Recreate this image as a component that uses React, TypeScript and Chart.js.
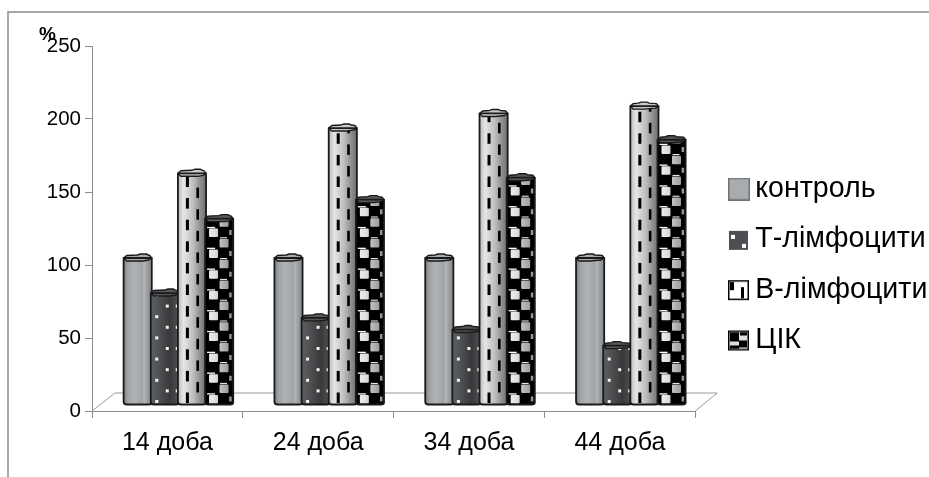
import React, { useEffect, useRef } from "react";
import { Chart, registerables } from "chart.js";

Chart.register(...registerables);

const categories = ["14 доба", "24 доба", "34 доба", "44 доба"];
const seriesNames = ["контроль", "Т-лімфоцити", "В-лімфоцити", "ЦІК"];
const control = [100, 100, 100, 100];
const tCells = [76, 59, 51, 40];
const bCells = [158, 189, 199, 204];
const cik = [127, 140, 155, 181];
const seriesValues = [control, tCells, bCells, cik];
const baseColors = ["#a4a7aa", "#444648", "#c4c4c4", "#111111"];

type Stops = [number, string][];
const bodyStops: Stops[] = [
  [[0, "#7e8184"], [0.15, "#a0a3a6"], [0.38, "#b0b3b6"], [0.68, "#a0a3a6"], [0.72, "#b4b7ba"], [0.85, "#9a9da0"], [1, "#85888b"]],
  [[0, "#5c5e61"], [0.3, "#4e5052"], [0.68, "#38393b"], [1, "#4f5154"]],
  [[0, "#b8b8b8"], [0.2, "#e6e6e6"], [0.55, "#bdbdbd"], [0.8, "#8e8e8e"], [1, "#6e6e6e"]],
  [[0, "#f4f4f4"], [0.35, "#e0e0e0"], [0.6, "#b8b8b8"], [1, "#8a8a8a"]],
];
const capColors = ["#a8abae", "#55575a", "#c8c8c8", "#5a5a5a"];

const SWATCH_W = 44;

function makeSwatch(i: number): HTMLCanvasElement {
  const c = document.createElement("canvas");
  c.width = SWATCH_W;
  c.height = 23;
  const g = c.getContext("2d")!;
  g.translate(SWATCH_W - 23, 0);
  if (i === 0) {
    g.fillStyle = "#a9acaf";
    g.fillRect(0, 0, 22, 23);
    g.strokeStyle = "#6f7275";
    g.lineWidth = 1.5;
    g.strokeRect(0.75, 0.75, 20.5, 21.5);
  } else if (i === 1) {
    g.fillStyle = "#4d4f52";
    g.fillRect(1, 3, 19, 19);
    g.fillStyle = "#fff";
    g.fillRect(3, 7, 4, 4);
    g.fillRect(14, 16, 4, 4);
  } else if (i === 2) {
    g.fillStyle = "#fff";
    g.fillRect(0, 2, 21, 20);
    g.strokeStyle = "#000";
    g.lineWidth = 1.5;
    g.strokeRect(0.75, 2.75, 19.5, 18.5);
    g.fillStyle = "#000";
    g.fillRect(2, 4, 4, 8);
    g.fillRect(13, 9, 3, 11);
  } else {
    g.fillStyle = "#ddd";
    g.fillRect(1, 3, 19, 19);
    g.strokeStyle = "#000";
    g.lineWidth = 1.5;
    g.strokeRect(0.75, 2.75, 19.5, 18.5);
    g.fillStyle = "#000";
    g.fillRect(2, 4, 9, 9);
    g.fillRect(12, 4, 7, 3);
    g.fillRect(11, 12, 8, 7);
    g.fillRect(2, 17, 9, 3);
  }
  return c;
}

const SHIFT_X = 11;
const SHIFT_Y = -6;
const CAP_ABOVE = 5;

function paintBar(ctx: CanvasRenderingContext2D, s: number, g: number, x0: number, w: number, y: number, base: number) {
  const t = y - CAP_ABOVE;
  const bump = x0 + w * (0.7 - g * 0.07);

  const capShape = new Path2D();
  capShape.moveTo(x0, t + 4);
  capShape.lineTo(x0 + 3, t + 1.5);
  capShape.lineTo(bump - 6, t + 1);
  capShape.lineTo(bump - 3, t);
  capShape.lineTo(bump + 3, t);
  capShape.lineTo(bump + 5, t + 1);
  capShape.lineTo(x0 + w - 2, t + 1.5);
  capShape.lineTo(x0 + w, t + 4);
  capShape.lineTo(x0 + w - 3, t + 6);
  capShape.lineTo(bump, t + 7);
  capShape.lineTo(x0 + 3, t + 7);
  capShape.closePath();

  const body = new Path2D();
  body.moveTo(x0, t + 4);
  body.lineTo(x0 + w, t + 4);
  body.lineTo(x0 + w, base - 2);
  body.quadraticCurveTo(x0 + w, base, x0 + w - 3, base);
  body.lineTo(x0 + 3, base);
  body.quadraticCurveTo(x0, base, x0, base - 3);
  body.closePath();

  const grad = ctx.createLinearGradient(x0, 0, x0 + w, 0);
  bodyStops[s].forEach(([o, col]) => grad.addColorStop(o, col));

  ctx.save();
  ctx.clip(body);
  ctx.fillStyle = grad;
  ctx.fillRect(x0, t, w, base - t);

  if (s === 1) {
    ctx.fillStyle = "#f2f2f2";
    let row = 0;
    for (let yy = base - 3; yy > t + 5; yy -= 10.6, row++) {
      if (row % 2 === 0) {
        ctx.fillRect(x0 + 4.5, yy - 1.5, 3, 3);
      } else {
        ctx.fillRect(x0 + 15, yy - 1.5, 3, 3);
        ctx.fillRect(x0 + 25, yy - 1.5, 2, 3);
      }
    }
  } else if (s === 2) {
    ctx.fillStyle = "#000";
    for (let yy = base; yy > t - 22; yy -= 21.6) {
      ctx.fillRect(x0 + 8, yy - 12, 3, 10.5);
      ctx.fillRect(x0 + 18.5, yy - 22.5, 2.6, 10.5);
    }
  } else if (s === 3) {
    // black field, light cells staggered over the shading
    ctx.fillStyle = "#000";
    ctx.fillRect(x0, t, w, base - t);
    const cells = new Path2D();
    let row = 0;
    for (let yy = base - 1; yy > t - 10; yy -= 10.4, row++) {
      if (row % 2 === 0) {
        cells.roundRect(x0 + 4, yy - 8.5, 9, 8.5, 1);
        cells.rect(x0 + w - 4, yy - 7, 2.5, 5);
      } else {
        cells.roundRect(x0 + 14.5, yy - 8.5, 9, 8.5, 1);
      }
    }
    ctx.save();
    ctx.clip(cells);
    ctx.fillStyle = grad;
    ctx.fillRect(x0, t, w, base - t);
    ctx.restore();
    ctx.fillStyle = "#fff";
    row = 0;
    for (let yy = base - 1; yy > t + 8; yy -= 10.4, row++) {
      if (row % 2 === 0) ctx.fillRect(x0 + 2, yy - 10.2, 8, 1.3);
      else ctx.fillRect(x0 + 15, yy - 10.2, 7, 1);
    }
  }
  ctx.restore();

  ctx.fillStyle = capColors[s];
  ctx.fill(capShape);

  ctx.strokeStyle = "#1a1a1a";
  ctx.lineWidth = 1.8;
  ctx.lineJoin = "round";
  ctx.stroke(body);
  ctx.lineWidth = 1.4;
  ctx.stroke(capShape);
}

const decorPlugin = {
  id: "decor",
  beforeDatasetsDraw(chart: any) {
    const { ctx, chartArea } = chart;
    const { left, right, bottom } = chartArea;
    ctx.save();
    ctx.strokeStyle = "#9a9a9a";
    ctx.lineWidth = 1;
    ctx.beginPath();
    ctx.moveTo(left, bottom);
    ctx.lineTo(left + 23, bottom - 18);
    ctx.lineTo(right + 22, bottom - 18);
    ctx.lineTo(right, bottom);
    ctx.stroke();
    ctx.restore();
    ctx.save();
    ctx.translate(SHIFT_X, SHIFT_Y);
  },
  afterDatasetsDraw(chart: any) {
    seriesNames.forEach((_, s) => {
      chart.getDatasetMeta(s).data.forEach((el: any, g: number) => {
        paintBar(chart.ctx, s, g, el.x - el.width / 2 - 0.5, el.width + 1, el.y, el.base);
      });
    });
    chart.ctx.restore();
  },
  afterDraw(chart: any) {
    const { ctx, width, height } = chart;
    ctx.save();
    ctx.strokeStyle = "#8c8c8c";
    ctx.lineWidth = 1.5;
    ctx.beginPath();
    ctx.moveTo(8, height);
    ctx.lineTo(8, 12);
    ctx.lineTo(width, 12);
    ctx.stroke();
    ctx.fillStyle = "#000";
    ctx.font = "bold 19px 'Liberation Sans'";
    ctx.textAlign = "left";
    ctx.textBaseline = "alphabetic";
    ctx.fillText("%", 39, 40);
    ctx.restore();
  },
};

export default function App() {
  const ref = useRef<HTMLCanvasElement>(null);
  useEffect(() => {
    document.body.style.margin = "0";
    const swatches = seriesNames.map((_, i) => makeSwatch(i));
    const chart = new Chart(ref.current!, {
      type: "bar",
      data: {
        labels: categories,
        datasets: seriesNames.map((name, i) => ({
          label: name,
          data: seriesValues[i],
          backgroundColor: baseColors[i],
          clip: false as any,
          barPercentage: 1,
          categoryPercentage: 0.72,
        })),
      },
      options: {
        responsive: false,
        animation: false,
        layout: { padding: { left: 0, right: 2, top: 46, bottom: 0 } },
        plugins: {
          title: { display: false },
          tooltip: { enabled: false },
          legend: {
            position: "right",
            title: { display: true, text: " ", font: { size: 5 }, padding: 0 },
            labels: {
              color: "#000",
              font: { family: "'Liberation Sans'", size: 28.6 },
              padding: 21.7,
              usePointStyle: true,
              pointStyleWidth: 24,
              generateLabels: () =>
                seriesNames.map((text, i) => ({
                  text,
                  fontColor: "#000",
                  pointStyle: swatches[i],
                  datasetIndex: i,
                  lineWidth: 0,
                  fillStyle: baseColors[i],
                  strokeStyle: baseColors[i],
                })) as any,
            },
          },
        },
        scales: {
          x: {
            grid: { drawOnChartArea: false, tickLength: 7, color: "#8c8c8c" },
            border: { color: "#8c8c8c" },
            ticks: { color: "#000", font: { family: "'Liberation Sans'", size: 25 }, padding: 10, maxRotation: 0 },
            afterFit: (s: any) => { s.height = 66; },
          },
          y: {
            min: 0,
            max: 250,
            grid: { drawOnChartArea: false, tickLength: 7, color: "#8c8c8c" },
            border: { color: "#8c8c8c" },
            ticks: { color: "#000", font: { family: "'Liberation Sans'", size: 20.5 }, stepSize: 50, padding: 4 },
            afterFit: (s: any) => { s.width = 92; },
          },
        },
      },
      plugins: [decorPlugin],
    });
    return () => chart.destroy();
  }, []);
  return <canvas ref={ref} width={929} height={477} style={{ display: "block" }} />;
}
